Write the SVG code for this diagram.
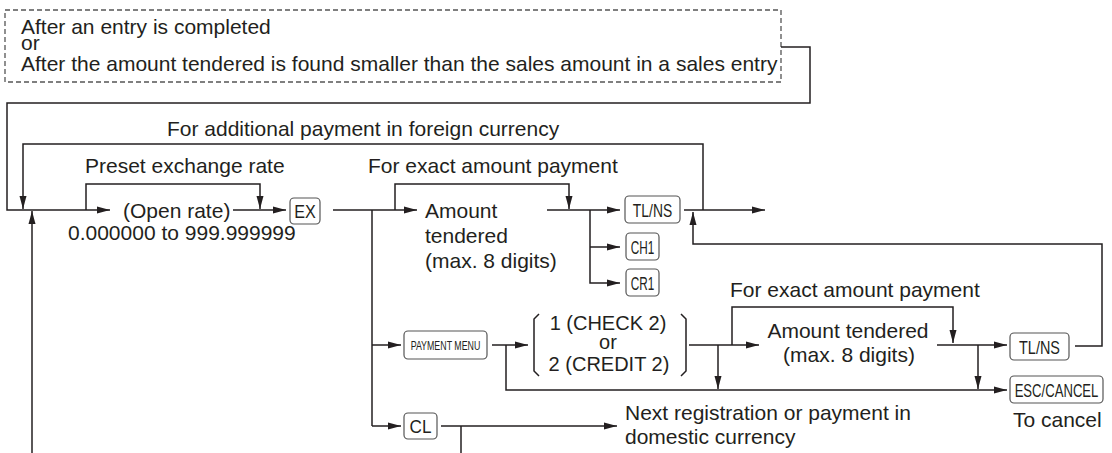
<svg xmlns="http://www.w3.org/2000/svg" width="1112" height="453" viewBox="0 0 1112 453">
<style>
text{font-family:"Liberation Sans",Arial,sans-serif;fill:#231f20;font-size:21px}
.k{font-size:19px;text-anchor:middle}
.ks{font-size:13px;text-anchor:middle}
.b{font-size:20px}
.key{fill:#fff;stroke:#555;stroke-width:1.2}
.c{fill:none;stroke:#231f20;stroke-width:1.5}
.dash{fill:none;stroke:#555;stroke-width:1.3;stroke-dasharray:5 3}
.mid{text-anchor:middle}
</style>
<defs>
<marker id="ah" markerWidth="13" markerHeight="8" refX="13" refY="4" orient="auto" markerUnits="userSpaceOnUse">
<path d="M0,0.5 L13,4 L0,7.5 z" fill="#231f20"/>
</marker>
</defs>

<g id="start-note">
<rect class="dash" x="5" y="10" width="776" height="72"/>
<text x="21" y="34">After an entry is completed</text>
<text x="21" y="50">or</text>
<text x="21" y="71">After the amount tendered is found smaller than the sales amount in a sales entry</text>
</g>

<g id="labels">
<text x="167" y="136">For additional payment in foreign currency</text>
<text x="85" y="173">Preset exchange rate</text>
<text x="368" y="173">For exact amount payment</text>
<text x="730" y="297">For exact amount payment</text>
</g>

<g id="open-rate">
<text x="123" y="218">(Open rate)</text>
<text x="68" y="240">0.000000 to 999.999999</text>
</g>

<g id="key-ex">
<rect class="key" x="290" y="198" width="30" height="26" rx="4"/>
<text class="k" transform="translate(305,218) scale(0.85,1)">EX</text>
</g>

<g id="amount-1">
<text x="425" y="218">Amount</text>
<text x="425" y="243">tendered</text>
<text x="425" y="268">(max. 8 digits)</text>
</g>

<g id="key-tlns-1">
<rect class="key" x="625" y="196" width="55" height="27" rx="4"/>
<text class="k" transform="translate(652.5,216.5) scale(0.73,1)">TL/NS</text>
</g>
<g id="key-ch1">
<rect class="key" x="626" y="233" width="33" height="27" rx="4"/>
<text class="k" transform="translate(642.5,253.5) scale(0.62,1)">CH1</text>
</g>
<g id="key-cr1">
<rect class="key" x="626" y="269" width="33" height="27" rx="4"/>
<text class="k" transform="translate(642.5,289.5) scale(0.62,1)">CR1</text>
</g>

<g id="key-payment-menu">
<rect class="key" x="404" y="331" width="83" height="28" rx="4"/>
<text class="ks" transform="translate(445.5,350) scale(0.68,1)">PAYMENT MENU</text>
</g>

<g id="choice">
<path class="c" d="M539,314 L534,319 V371 L539,376 M681,314 L686,319 V371 L681,376"/>
<text class="b mid" x="608" y="330">1 (CHECK 2)</text>
<text class="b mid" x="608" y="349">or</text>
<text class="b mid" x="609" y="371">2 (CREDIT 2)</text>
</g>

<g id="amount-2">
<text class="mid" x="848" y="338">Amount tendered</text>
<text class="mid" x="849" y="362">(max. 8 digits)</text>
</g>

<g id="key-tlns-2">
<rect class="key" x="1010" y="333" width="59" height="27" rx="4"/>
<text class="k" transform="translate(1039.5,353.5) scale(0.76,1)">TL/NS</text>
</g>
<g id="key-esc">
<rect class="key" x="1010" y="376" width="93" height="27" rx="4"/>
<text class="k" transform="translate(1056.5,396.5) scale(0.69,1)">ESC/CANCEL</text>
<text x="1013" y="427">To cancel</text>
</g>

<g id="key-cl">
<rect class="key" x="404" y="413" width="33" height="26" rx="4"/>
<text class="k" transform="translate(420.5,433) scale(0.9,1)">CL</text>
</g>
<g id="next">
<text x="625" y="420">Next registration or payment in</text>
<text x="625" y="444">domestic currency</text>
</g>

<g id="connectors">
<path class="c" d="M781,47 H810 V103 H7 V210 H110" marker-end="url(#ah)"/>
<path class="c" d="M703,210 V144 H23 V209" marker-end="url(#ah)"/>
<path class="c" d="M32,453 V211" marker-end="url(#ah)"/>
<path class="c" d="M86,210 V184 H260 V209" marker-end="url(#ah)"/>
<path class="c" d="M233,210 H286" marker-end="url(#ah)"/>
<path class="c" d="M333,210 H417" marker-end="url(#ah)"/>
<path class="c" d="M372,210 V426"/>
<path class="c" d="M395,210 V184 H569 V209" marker-end="url(#ah)"/>
<path class="c" d="M547,210 H620" marker-end="url(#ah)"/>
<path class="c" d="M590,210 V283 H620" marker-end="url(#ah)"/>
<path class="c" d="M590,247 H620" marker-end="url(#ah)"/>
<path class="c" d="M684,210 H765" marker-end="url(#ah)"/>
<path class="c" d="M1075,346 H1102 V244 H693 V212" marker-end="url(#ah)"/>
<path class="c" d="M372,345 H401" marker-end="url(#ah)"/>
<path class="c" d="M372,426 H401" marker-end="url(#ah)"/>
<path class="c" d="M492,345 H528" marker-end="url(#ah)"/>
<path class="c" d="M506,345 V390 H1007" marker-end="url(#ah)"/>
<path class="c" d="M689,345 H759" marker-end="url(#ah)"/>
<path class="c" d="M718,345 V389" marker-end="url(#ah)"/>
<path class="c" d="M732,345 V307 H953 V343" marker-end="url(#ah)"/>
<path class="c" d="M937,345 H1007" marker-end="url(#ah)"/>
<path class="c" d="M978,345 V389" marker-end="url(#ah)"/>
<path class="c" d="M441,426 H617" marker-end="url(#ah)"/>
<path class="c" d="M461,426 V453"/>
</g>
</svg>
